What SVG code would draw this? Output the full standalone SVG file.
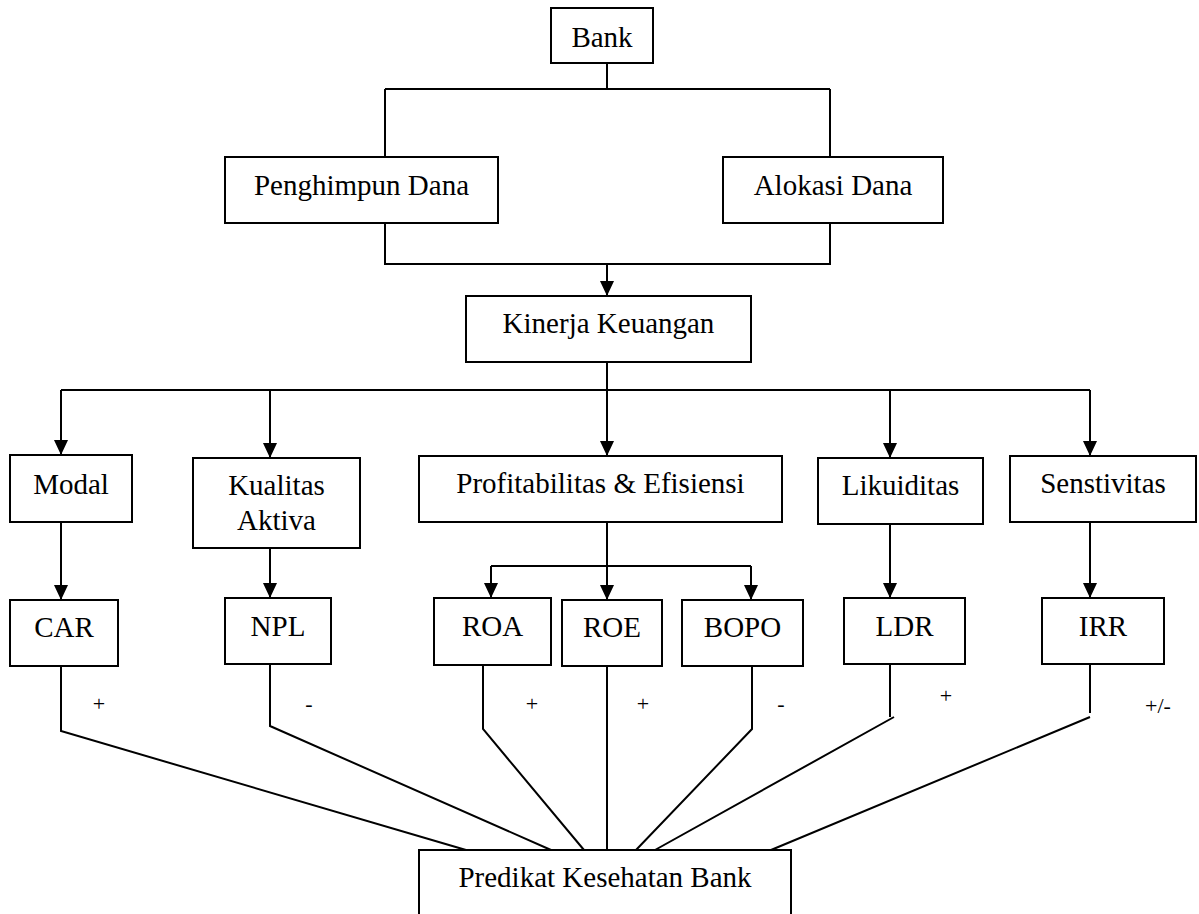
<svg xmlns="http://www.w3.org/2000/svg" width="1199" height="914" viewBox="0 0 1199 914">
<style>
.box{fill:#fff;stroke:#000;stroke-width:2}
.t{font-family:"Liberation Serif","Times New Roman",serif;font-size:29px;fill:#000;text-anchor:middle}
.s{font-family:"Liberation Serif","Times New Roman",serif;font-size:22px;fill:#000;text-anchor:middle}
.c{fill:none;stroke:#000;stroke-width:2}
</style>
<defs>
<marker id="arr" markerUnits="userSpaceOnUse" markerWidth="15" markerHeight="15" refX="15" refY="7" orient="auto" viewBox="0 0 15 14">
<path d="M0,0 L15,7 L0,14 z" fill="#000"/>
</marker>
</defs>
<rect width="1199" height="914" fill="#fff"/>
<g id="connectors">
<path class="c" d="M607,63 V89 M385,89 H830 M385,89 V157 M830,89 V157"/>
<path class="c" d="M385,223 V264 H830 V223"/>
<path class="c" d="M607,264 V296" marker-end="url(#arr)"/>
<path class="c" d="M607,362 V390 M61,390 H1090"/>
<path class="c" d="M61,390 V455" marker-end="url(#arr)"/>
<path class="c" d="M270,390 V458" marker-end="url(#arr)"/>
<path class="c" d="M607,390 V456" marker-end="url(#arr)"/>
<path class="c" d="M890,390 V458" marker-end="url(#arr)"/>
<path class="c" d="M1090,390 V456" marker-end="url(#arr)"/>
<path class="c" d="M61,522 V600" marker-end="url(#arr)"/>
<path class="c" d="M270,548 V598" marker-end="url(#arr)"/>
<path class="c" d="M607,522 V566 M491,566 H751"/>
<path class="c" d="M491,566 V598" marker-end="url(#arr)"/>
<path class="c" d="M607,566 V600" marker-end="url(#arr)"/>
<path class="c" d="M751,566 V600" marker-end="url(#arr)"/>
<path class="c" d="M890,524 V598" marker-end="url(#arr)"/>
<path class="c" d="M1090,522 V598" marker-end="url(#arr)"/>
<path class="c" d="M61,666 V731 L466,850"/>
<path class="c" d="M270,664 V726 L551,850"/>
<path class="c" d="M483,665 V729 L584,850"/>
<path class="c" d="M607,666 V850"/>
<path class="c" d="M752,666 V729 L636,850"/>
<path class="c" d="M890,664 V717 M894,717 L655,850"/>
<path class="c" d="M1090,664 V713 M1090,717 L771,850"/>
</g>
<g id="bank"><rect class="box" x="551" y="8" width="102" height="55"/><text class="t" x="602" y="47">Bank</text></g>
<g id="penghimpun"><rect class="box" x="225" y="157" width="273" height="66"/><text class="t" x="361.5" y="195">Penghimpun Dana</text></g>
<g id="alokasi"><rect class="box" x="723" y="157" width="220" height="66"/><text class="t" x="833" y="195">Alokasi Dana</text></g>
<g id="kinerja"><rect class="box" x="466" y="296" width="285" height="66"/><text class="t" x="608.5" y="333">Kinerja Keuangan</text></g>
<g id="modal"><rect class="box" x="10" y="455" width="122" height="67"/><text class="t" x="71" y="494">Modal</text></g>
<g id="kualitas"><rect class="box" x="193" y="458" width="167" height="90"/><text class="t" x="276.5" y="495">Kualitas</text><text class="t" x="276.5" y="530">Aktiva</text></g>
<g id="profitabilitas"><rect class="box" x="419" y="456" width="363" height="66"/><text class="t" x="600.5" y="493">Profitabilitas &amp; Efisiensi</text></g>
<g id="likuiditas"><rect class="box" x="818" y="458" width="165" height="66"/><text class="t" x="900.5" y="495">Likuiditas</text></g>
<g id="senstivitas"><rect class="box" x="1010" y="456" width="186" height="66"/><text class="t" x="1103" y="493">Senstivitas</text></g>
<g id="car"><rect class="box" x="10" y="600" width="108" height="66"/><text class="t" x="64" y="637">CAR</text></g>
<g id="npl"><rect class="box" x="225" y="598" width="106" height="66"/><text class="t" x="278" y="636">NPL</text></g>
<g id="roa"><rect class="box" x="434" y="598" width="117" height="67"/><text class="t" x="492.5" y="636">ROA</text></g>
<g id="roe"><rect class="box" x="562" y="600" width="100" height="66"/><text class="t" x="612" y="637">ROE</text></g>
<g id="bopo"><rect class="box" x="682" y="600" width="121" height="66"/><text class="t" x="742.5" y="637">BOPO</text></g>
<g id="ldr"><rect class="box" x="844" y="598" width="121" height="66"/><text class="t" x="904.5" y="636">LDR</text></g>
<g id="irr"><rect class="box" x="1042" y="598" width="122" height="66"/><text class="t" x="1103" y="636">IRR</text></g>
<g id="predikat"><rect class="box" x="419" y="850" width="372" height="100"/><text class="t" x="605" y="887">Predikat Kesehatan Bank</text></g>
<g id="labels">
<text class="s" x="99" y="711">+</text>
<text class="s" x="309" y="711">-</text>
<text class="s" x="532" y="711">+</text>
<text class="s" x="643" y="711">+</text>
<text class="s" x="781" y="711">-</text>
<text class="s" x="946" y="703">+</text>
<text class="s" x="1158" y="713">+/-</text>
</g>
</svg>
